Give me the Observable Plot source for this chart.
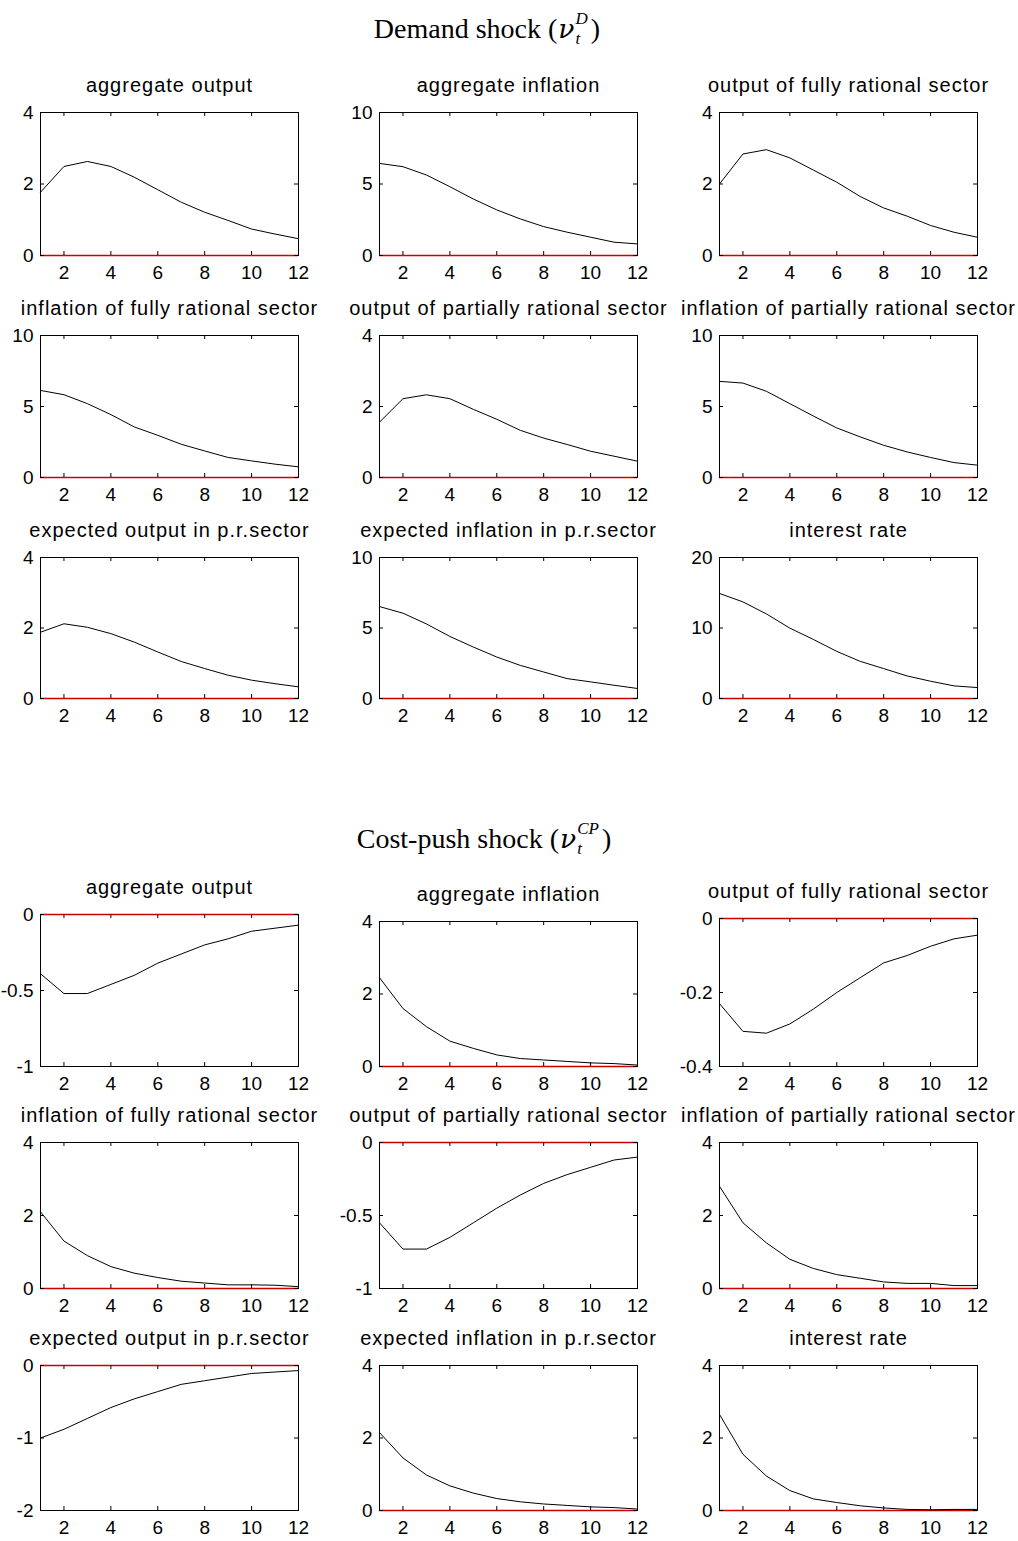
<!DOCTYPE html>
<html><head><meta charset="utf-8">
<script src="https://cdn.jsdelivr.net/npm/d3@7"></script>
<script src="https://cdn.jsdelivr.net/npm/@observablehq/plot@0.6"></script>
<style>
body{margin:0;background:#fff;}
#root{position:relative;width:1018px;height:1541px;overflow:hidden;background:#fff;}
.panel{position:absolute;}
.gtitle{position:absolute;font-family:"Liberation Serif","Times New Roman",serif;font-size:28px;line-height:28px;color:#000;white-space:nowrap;transform:translateX(-50%);}
.gtitle .nu{font-family:"DejaVu Serif","Liberation Serif",serif;font-style:italic;font-size:0.95em;margin-left:1px;}
.gtitle .ss{display:inline-flex;flex-direction:column;align-items:flex-start;vertical-align:14px;font-size:17px;line-height:19.5px;margin:0 3px 0 1px;font-family:"Liberation Serif",serif;font-style:italic;}
.gtitle .ss span{display:block;height:19.5px;}
.panel svg [aria-label="text"] text{letter-spacing:1px;}
</style></head><body><div id="root"></div><script>
// ---- data ----
const periods = [1,2,3,4,5,6,7,8,9,10,11,12];
const xTicks = [2,4,6,8,10,12];
const panelTitles = ["aggregate output","aggregate inflation","output of fully rational sector",
  "inflation of fully rational sector","output of partially rational sector","inflation of partially rational sector",
  "expected output in p.r.sector","expected inflation in p.r.sector","interest rate"];

// Demand shock
const dAggOutput = [1.77,2.49,2.63,2.49,2.19,1.84,1.49,1.21,0.98,0.74,0.60,0.47];
const dAggInflation = [6.44,6.21,5.63,4.81,3.95,3.19,2.56,2.02,1.63,1.28,0.93,0.81];
const dOutputFR = [2.00,2.84,2.96,2.73,2.39,2.05,1.65,1.33,1.10,0.84,0.65,0.51];
const dInflationFR = [6.13,5.83,5.20,4.43,3.56,2.97,2.34,1.87,1.41,1.17,0.94,0.75];
const dOutputPR = [1.56,2.22,2.33,2.22,1.92,1.64,1.33,1.11,0.93,0.74,0.60,0.46];
const dInflationPR = [6.77,6.65,6.07,5.20,4.33,3.49,2.86,2.27,1.80,1.41,1.05,0.87];
const dExpOutput = [1.88,2.12,2.02,1.84,1.60,1.32,1.05,0.85,0.66,0.52,0.42,0.33];
const dExpInflation = [6.52,6.05,5.29,4.40,3.65,2.94,2.35,1.88,1.41,1.18,0.94,0.71];
const dInterest = [14.9,13.7,12.0,9.98,8.38,6.68,5.27,4.24,3.20,2.45,1.79,1.55];
const dDomains = [[0,4],[0,10],[0,4],[0,10],[0,4],[0,10],[0,4],[0,10],[0,20]];
const dTicks = [[0,2,4],[0,5,10],[0,2,4],[0,5,10],[0,2,4],[0,5,10],[0,2,4],[0,5,10],[0,10,20]];

// Cost-push shock
const cAggOutput = [-0.39,-0.52,-0.52,-0.46,-0.40,-0.32,-0.26,-0.20,-0.16,-0.11,-0.09,-0.07];
const cAggInflation = [2.45,1.60,1.10,0.70,0.50,0.32,0.22,0.18,0.14,0.10,0.08,0.04];
const cOutputFR = [-0.23,-0.305,-0.31,-0.285,-0.245,-0.20,-0.16,-0.12,-0.10,-0.075,-0.055,-0.045];
const cInflationFR = [2.10,1.30,0.90,0.60,0.42,0.30,0.20,0.15,0.10,0.10,0.09,0.05];
const cOutputPR = [-0.55,-0.73,-0.73,-0.65,-0.55,-0.45,-0.36,-0.28,-0.22,-0.17,-0.12,-0.10];
const cInflationPR = [2.80,1.80,1.25,0.80,0.55,0.38,0.28,0.18,0.14,0.14,0.08,0.08];
const cExpOutput = [-1.00,-0.88,-0.73,-0.58,-0.46,-0.36,-0.26,-0.21,-0.16,-0.11,-0.09,-0.07];
const cExpInflation = [2.15,1.45,0.98,0.68,0.48,0.33,0.24,0.18,0.14,0.10,0.08,0.04];
const cInterest = [2.65,1.55,0.95,0.55,0.32,0.22,0.13,0.07,0.03,0.02,0.03,0.03];
const cDomains = [[-1,0],[0,4],[-0.4,0],[0,4],[-1,0],[0,4],[-2,0],[0,4],[0,4]];
const cTicks = [[-1,-0.5,0],[0,2,4],[-0.4,-0.2,0],[0,2,4],[-1,-0.5,0],[0,2,4],[-2,-1,0],[0,2,4],[0,2,4]];

const demandSeries = [dAggOutput,dAggInflation,dOutputFR,dInflationFR,dOutputPR,dInflationPR,dExpOutput,dExpInflation,dInterest];
const costSeries = [cAggOutput,cAggInflation,cOutputFR,cInflationFR,cOutputPR,cInflationPR,cExpOutput,cExpInflation,cInterest];

// ---- layout (panel boxes: top, bottom) ----
const colLeft = [40,379,719];
const boxW = 258;
const demandBoxes = [
  [112,255],[112,255],[112,255],
  [335,477],[335,477],[335,477],
  [557,698],[557,698],[557,698]];
const costBoxes = [
  [914,1066],[921,1066],[918,1066],
  [1142,1288],[1142,1288],[1142,1288],
  [1365,1510],[1365,1510],[1365,1510]];

const root = document.getElementById("root");

function panel(values, yDomain, yTicks, title, bx, by, bw, bh) {
  const mL = 50, mR = 20, mT = 45, mB = 35;
  const data = periods.map((p, i) => ({p, v: values[i]}));
  const svg = Plot.plot({
    width: bw + mL + mR, height: bh + mT + mB,
    marginLeft: mL, marginRight: mR, marginTop: mT, marginBottom: mB,
    x: {domain: [1,12]},
    y: {domain: yDomain},
    style: {fontFamily: '"Liberation Sans", Arial, Helvetica, sans-serif', fontSize: "19px", color: "#000", background: "transparent", overflow: "visible"},
    marks: [
      Plot.frame({stroke: "#000", strokeWidth: 1}),
      Plot.ruleY([0], {stroke: "#cc0000", strokeWidth: 1.3}),
      Plot.line(data, {x: "p", y: "v", stroke: "#000", strokeWidth: 1}),
      Plot.tickX(xTicks, {x: d => d, insetTop: bh - 4, stroke: "#000"}),
      Plot.tickX(xTicks, {x: d => d, insetBottom: bh - 4, stroke: "#000"}),
      Plot.tickY(yTicks, {y: d => d, insetRight: bw - 4, stroke: "#000"}),
      Plot.tickY(yTicks, {y: d => d, insetLeft: bw - 4, stroke: "#000"}),
      Plot.axisX(xTicks, {anchor: "bottom", tickSize: 0, tickPadding: 10, label: null, tickFormat: d => String(d)}),
      Plot.axisY(yTicks, {anchor: "left", tickSize: 0, tickPadding: 7, label: null, tickFormat: d => String(d)}),
      Plot.text([title], {frameAnchor: "top", dy: -27, lineAnchor: "middle", fontSize: 20})
    ]
  });
  const div = document.createElement("div");
  div.className = "panel";
  div.style.left = (bx - mL) + "px";
  div.style.top = (by - mT) + "px";
  div.appendChild(svg);
  root.appendChild(div);
}

for (let i = 0; i < 9; i++) {
  const [t, b] = demandBoxes[i];
  panel(demandSeries[i], dDomains[i], dTicks[i], panelTitles[i], colLeft[i % 3], t, boxW, b - t);
}
for (let i = 0; i < 9; i++) {
  const [t, b] = costBoxes[i];
  panel(costSeries[i], cDomains[i], cTicks[i], panelTitles[i], colLeft[i % 3], t, boxW, b - t);
}

function groupTitle(html, cx, top) {
  const d = document.createElement("div");
  d.className = "gtitle";
  d.style.left = cx + "px";
  d.style.top = top + "px";
  d.innerHTML = html;
  root.appendChild(d);
}
groupTitle('Demand shock (<span class="nu">ν</span><span class="ss"><span>D</span><span>t</span></span>)', 487, 9);
groupTitle('Cost-push shock (<span class="nu">ν</span><span class="ss"><span>CP</span><span>t</span></span>)', 484, 819);
</script></body></html>
